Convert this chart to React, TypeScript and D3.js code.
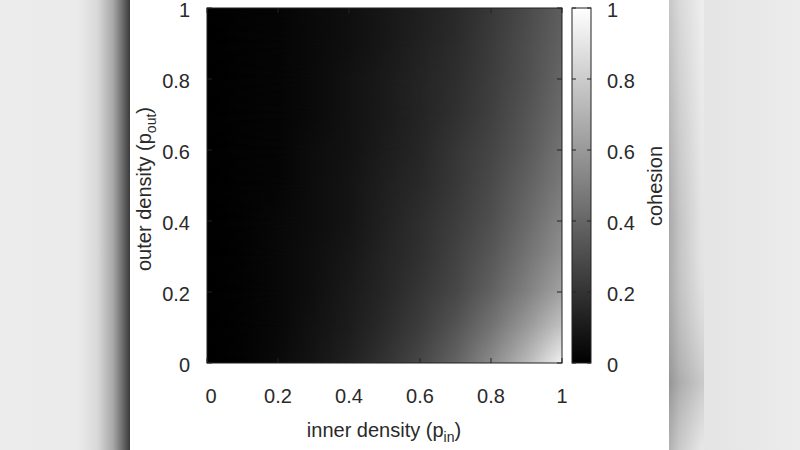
import React from "react";
import * as d3 from "d3";

// Grid of cohesion values.
// Rows: outer density p_out = 0, 0.1, ..., 1 ; columns: inner density p_in = 0, 0.1, ..., 1
const P_IN = [0, 0.1, 0.2, 0.3, 0.4, 0.5, 0.6, 0.7, 0.8, 0.9, 1];
const P_OUT = [0, 0.1, 0.2, 0.3, 0.4, 0.5, 0.6, 0.7, 0.8, 0.9, 1];
const COHESION_ROWS = [
  [0, 0.01, 0.04, 0.08, 0.13, 0.2, 0.28, 0.39, 0.54, 0.72, 0.95],
  [0, 0.01, 0.03, 0.07, 0.11, 0.17, 0.24, 0.33, 0.45, 0.6, 0.77],
  [0, 0.01, 0.03, 0.06, 0.1, 0.15, 0.21, 0.28, 0.38, 0.5, 0.64],
  [0, 0.01, 0.03, 0.06, 0.09, 0.14, 0.19, 0.26, 0.34, 0.45, 0.57],
  [0, 0.01, 0.03, 0.05, 0.08, 0.13, 0.18, 0.24, 0.31, 0.41, 0.52],
  [0, 0.01, 0.02, 0.05, 0.08, 0.12, 0.16, 0.22, 0.29, 0.38, 0.48],
  [0, 0.01, 0.02, 0.05, 0.07, 0.11, 0.15, 0.21, 0.27, 0.35, 0.45],
  [0, 0.01, 0.02, 0.04, 0.07, 0.1, 0.14, 0.19, 0.25, 0.33, 0.42],
  [0, 0.01, 0.02, 0.04, 0.07, 0.1, 0.14, 0.18, 0.24, 0.31, 0.4],
  [0, 0.01, 0.02, 0.04, 0.06, 0.09, 0.13, 0.17, 0.23, 0.3, 0.38],
  [0, 0.01, 0.02, 0.04, 0.06, 0.09, 0.12, 0.16, 0.22, 0.29, 0.37],
];
const AXIS_TICKS = [0, 0.2, 0.4, 0.6, 0.8, 1];
const CBAR_TICKS = [0, 0.2, 0.4, 0.6, 0.8, 1];

const FONT = "'Liberation Sans', Arial, Helvetica, sans-serif";
const TXT = "#2a2a2a";
const FS = 20;
const SUB = 14;

export default function App() {
  const x = d3.scaleLinear().domain([0, 1]).range([207, 562]);
  const y = d3.scaleLinear().domain([0, 1]).range([363, 8]);
  const cy = d3.scaleLinear().domain([0, 1]).range([363, 8]);
  const color = d3.scaleLinear<string>().domain([0, 1]).range(["#000000", "#ffffff"]);
  const fmt = (v: number) => d3.format("~g")(v);
  const cbX0 = 572;
  const cbX1 = 591;
  const tl = 5;

  const strips = d3.range(P_OUT.length - 1);

  return (
    <svg
      width={800}
      height={450}
      style={{ position: "absolute", left: 0, top: 0, background: "#fff" }}
      fontFamily={FONT}
    >
      <defs>
        {COHESION_ROWS.map((row, i) => (
          <linearGradient key={i} id={`row-${i}`} x1="0" y1="0" x2="1" y2="0">
            {row.map((v, j) => (
              <stop key={j} offset={P_IN[j]} stopColor={color(v)} />
            ))}
          </linearGradient>
        ))}
        <linearGradient id="vfade" x1="0" y1="0" x2="0" y2="1">
          <stop offset="0" stopColor="#fff" />
          <stop offset="1" stopColor="#000" />
        </linearGradient>
        <mask id="fadeMask" maskUnits="objectBoundingBox" maskContentUnits="objectBoundingBox">
          <rect x={0} y={0} width={1} height={1} fill="url(#vfade)" />
        </mask>
        <linearGradient id="cbar" x1="0" y1="1" x2="0" y2="0">
          {CBAR_TICKS.map((v) => (
            <stop key={v} offset={v} stopColor={color(v)} />
          ))}
        </linearGradient>
        <linearGradient id="leftBg" x1="0" y1="0" x2="130" y2="0" gradientUnits="userSpaceOnUse">
          <stop offset="0" stopColor="#ececec" />
          <stop offset="0.6" stopColor="#ebebeb" />
          <stop offset="0.75" stopColor="#d8d8d8" />
          <stop offset="0.87" stopColor="#a8a8a8" />
          <stop offset="0.95" stopColor="#666" />
          <stop offset="1" stopColor="#3a3a3a" />
        </linearGradient>
        <linearGradient id="rightBg" x1="669" y1="0" x2="800" y2="0" gradientUnits="userSpaceOnUse">
          <stop offset="0" stopColor="#a9a9a9" />
          <stop offset="0.08" stopColor="#c4c4c4" />
          <stop offset="0.25" stopColor="#e4e4e4" />
          <stop offset="1" stopColor="#ececec" />
        </linearGradient>
        <linearGradient id="rightShade" x1="0" y1="0" x2="0" y2="1">
          <stop offset="0" stopColor="#fff" stopOpacity="0.35" />
          <stop offset="0.5" stopColor="#fff" stopOpacity="0" />
          <stop offset="0.85" stopColor="#000" stopOpacity="0.12" />
          <stop offset="1" stopColor="#fff" stopOpacity="0.1" />
        </linearGradient>
      </defs>

      {/* blurred side panels */}
      <rect x={0} y={0} width={130} height={450} fill="url(#leftBg)" />
      <rect x={669} y={0} width={131} height={450} fill="url(#rightBg)" />
      <rect x={669} y={0} width={35} height={450} fill="url(#rightShade)" />

      {/* heatmap */}
      <g shapeRendering="crispEdges">
        {strips.map((i) => {
          const top = y(P_OUT[i + 1]);
          const h = y(P_OUT[i]) - top;
          return (
            <g key={i}>
              <rect x={x(0)} y={top} width={x(1) - x(0)} height={h} fill={`url(#row-${i})`} />
              <rect
                x={x(0)}
                y={top}
                width={x(1) - x(0)}
                height={h}
                fill={`url(#row-${i + 1})`}
                mask="url(#fadeMask)"
              />
            </g>
          );
        })}
      </g>

      {/* ticks on heatmap (all four sides, inward) */}
      <g stroke="#222" strokeWidth={1}>
        {AXIS_TICKS.map((t) => (
          <g key={t}>
            <line x1={x(t)} x2={x(t)} y1={y(0)} y2={y(0) - tl} />
            <line x1={x(t)} x2={x(t)} y1={y(1)} y2={y(1) + tl} />
            <line x1={x(0)} x2={x(0) + tl} y1={y(t)} y2={y(t)} />
            <line x1={x(1)} x2={x(1) - tl} y1={y(t)} y2={y(t)} />
          </g>
        ))}
      </g>
      <rect x={x(0)} y={y(1)} width={x(1) - x(0)} height={y(0) - y(1)} fill="none" stroke="#222" strokeWidth={1} />

      {/* tick labels */}
      <g fontSize={FS} fill={TXT}>
        {AXIS_TICKS.map((t) => (
          <text key={`y${t}`} x={190} y={y(t) + 8.5} textAnchor="end">
            {fmt(t)}
          </text>
        ))}
        {AXIS_TICKS.map((t) => (
          <text key={`x${t}`} x={x(t) + (t === 0 ? 4 : 0)} y={403} textAnchor="middle">
            {fmt(t)}
          </text>
        ))}
      </g>

      {/* axis titles */}
      <text x={384} y={437} textAnchor="middle" fontSize={FS} fill={TXT}>
        inner density (p<tspan fontSize={SUB} dy={5}>in</tspan>
        <tspan dy={-5}>)</tspan>
      </text>
      <text
        transform={`translate(151,189) rotate(-90)`}
        textAnchor="middle"
        fontSize={FS}
        fill={TXT}
      >
        outer density (p<tspan fontSize={SUB} dy={5}>out</tspan>
        <tspan dy={-5}>)</tspan>
      </text>

      {/* colour bar */}
      <rect x={cbX0} y={cy(1)} width={cbX1 - cbX0} height={cy(0) - cy(1)} fill="url(#cbar)" />
      <g stroke="#222" strokeWidth={1}>
        {CBAR_TICKS.map((t) => (
          <g key={t}>
            <line x1={cbX0} x2={cbX0 + 4} y1={cy(t)} y2={cy(t)} />
            <line x1={cbX1} x2={cbX1 - 4} y1={cy(t)} y2={cy(t)} />
          </g>
        ))}
      </g>
      <rect x={cbX0} y={cy(1)} width={cbX1 - cbX0} height={cy(0) - cy(1)} fill="none" stroke="#222" strokeWidth={1} />
      <g fontSize={FS} fill={TXT}>
        {CBAR_TICKS.map((t) => (
          <text key={t} x={607} y={cy(t) + 8.5} textAnchor="start">
            {fmt(t)}
          </text>
        ))}
      </g>
      <text
        transform={`translate(662,186) rotate(-90)`}
        textAnchor="middle"
        fontSize={FS}
        fill={TXT}
      >
        cohesion
      </text>
    </svg>
  );
}
